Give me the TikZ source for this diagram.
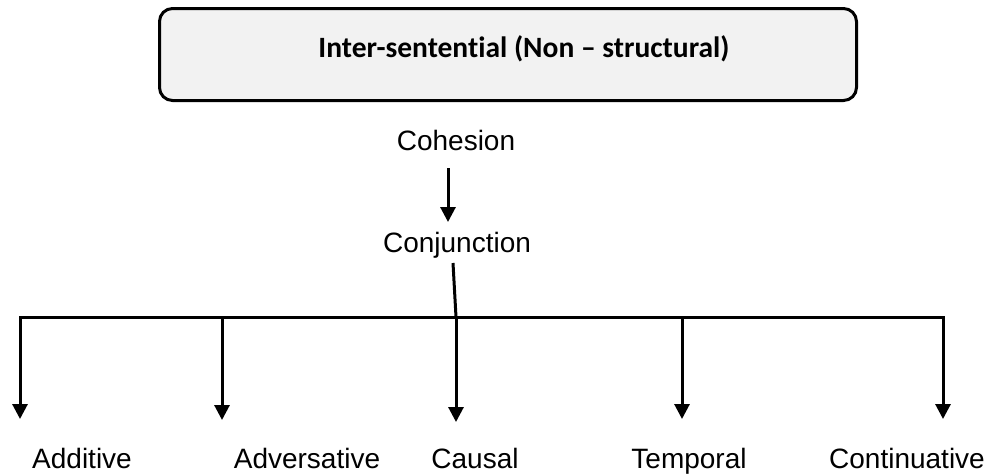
\documentclass[tikz,border=0pt]{standalone}
\usepackage{fontspec}
\setmainfont{Liberation Sans}
\newfontfamily\titlefont[Ligatures=NoCommon]{Carlito}
\usetikzlibrary{arrows.meta}
\definecolor{boxgray}{HTML}{F2F2F2}
\begin{document}
\begin{tikzpicture}[x=1pt,y=-1pt,
  conn/.style={line width=3pt},
  arr/.style={conn,-{Triangle[length=15pt,width=15pt]}},
  lbl/.style={font=\fontsize{28}{32}\selectfont, anchor=base, inner sep=0pt},
  titlebox/.style={draw, line width=3pt, rounded corners=13pt, fill=boxgray,
    minimum width=697pt, minimum height=92pt, inner sep=0pt},
  titletext/.style={font=\titlefont\bfseries\fontsize{29.5}{33}\selectfont, anchor=base, inner sep=0pt},
]
\useasboundingbox (0,0) rectangle (993,475);
% title box
\node[titlebox] (box) at (508,54.5) {};
\node[titletext] (title) at (524,57) {Inter-sentential (Non – structural)};
% middle
\node[lbl] (coh) at (456,150) {Cohesion};
\node[lbl] (conj) at (457,252) {Conjunction};
\draw[arr] ([shift={(-8,18)}]coh.base) -- ([shift={(-9,-30)}]conj.base);
% branch coordinates
\coordinate (hub) at (456,317);
\coordinate (tA) at (20,317);
\coordinate (tB) at (222,317);
\coordinate (tD) at (682,317);
\coordinate (tE) at (943,317);
\coordinate (eA) at (20,419);
\coordinate (eB) at (222,420);
\coordinate (eC) at (456,422);
\coordinate (eD) at (682,419);
\coordinate (eE) at (943,419);
\draw[conn] ([shift={(-4,11)}]conj.base) -- (hub);
\draw[conn, line cap=rect] (tA) -- (tE);
\draw[arr] (tA) -- (eA);
\draw[arr] (tB) -- (eB);
\draw[arr] (hub) -- (eC);
\draw[arr] (tD) -- (eD);
\draw[arr] (tE) -- (eE);
% leaves
\node[lbl] (add) at (82,468) {Additive};
\node[lbl] (adv) at (307,468) {Adversative};
\node[lbl] (cau) at (475,468) {Causal};
\node[lbl] (tem) at (689,468) {Temporal};
\node[lbl] (con) at (907,468) {Continuative};
\end{tikzpicture}
\end{document}
